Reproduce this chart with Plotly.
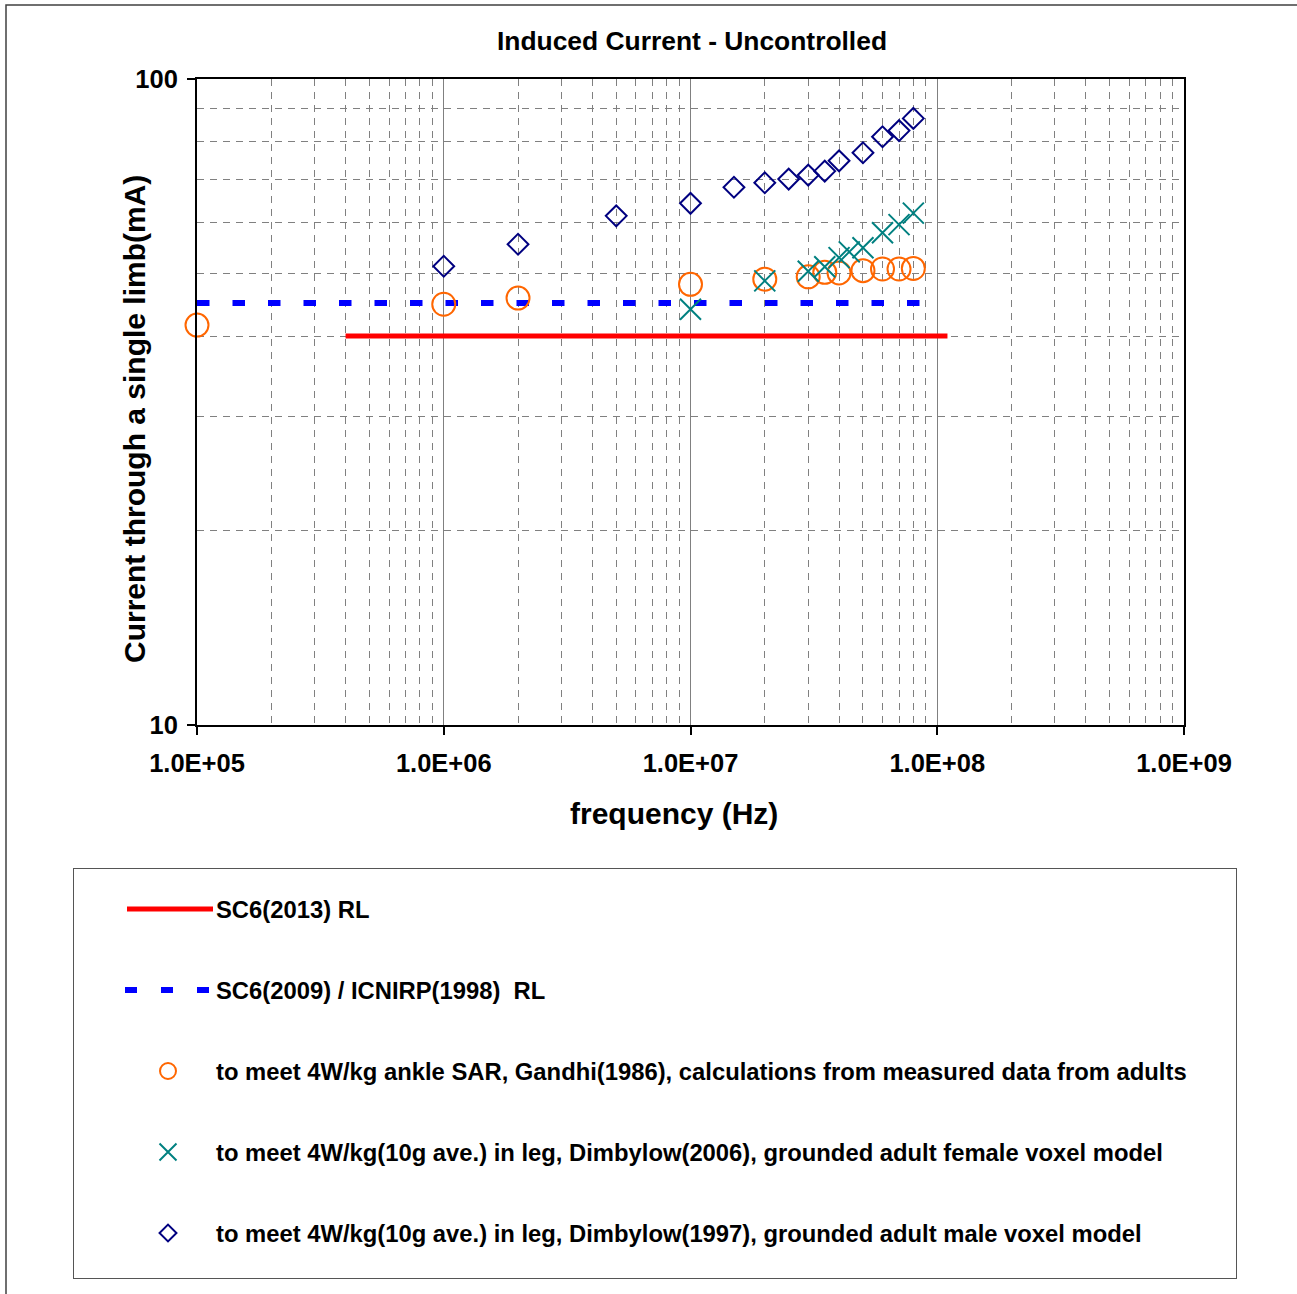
import plotly.graph_objects as go

# ---------------- data ----------------
sc6_2013_x = [4e5, 1.1e8]
sc6_2013_y = [40, 40]

sc6_2009_x = [1e5, 1e8]
sc6_2009_y = [45, 45]

gandhi_x = [1e5, 1e6, 2e6, 1e7, 2e7, 3e7, 3.5e7, 4e7, 5e7, 6e7, 7e7, 8e7]
gandhi_y = [41.6, 44.8, 45.8, 48.1, 49.0, 49.4, 50.2, 50.1, 50.5, 50.8, 50.8, 50.9]

dimb2006_x = [1e7, 2e7, 3e7, 3.5e7, 4e7, 4.4e7, 5e7, 6e7, 7e7, 8e7]
dimb2006_y = [44.0, 48.7, 50.4, 51.2, 52.9, 54.0, 54.8, 57.8, 59.5, 62.0]

dimb1997_x = [1e6, 2e6, 5e6, 1e7, 1.5e7, 2e7, 2.5e7, 3e7, 3.5e7, 4e7, 5e7, 6e7, 7e7, 8e7]
dimb1997_y = [51.3, 55.5, 61.4, 64.2, 68.0, 69.1, 70.0, 71.0, 72.0, 74.7, 76.9, 81.4, 83.2, 86.9]

x_tickvals = [1e5, 1e6, 1e7, 1e8, 1e9]
x_ticktext = ["1.0E+05", "1.0E+06", "1.0E+07", "1.0E+08", "1.0E+09"]
y_tickvals = [10, 100]
y_ticktext = ["10", "100"]

legend_labels = [
    "SC6(2013) RL",
    "SC6(2009) / ICNIRP(1998) \u00a0RL",
    "to meet 4W/kg ankle SAR, Gandhi(1986), calculations from measured data from adults",
    "to meet 4W/kg(10g ave.) in leg, Dimbylow(2006), grounded adult female voxel model",
    "to meet 4W/kg(10g ave.) in leg, Dimbylow(1997), grounded adult male voxel model",
]

# ---------------- styling ----------------
W, H = 1297, 1294
FONT = "Liberation Sans, Arial, sans-serif"
ORANGE = "#FF6600"
TEAL = "#008080"
NAVY = "#000080"
GRID = "#808080"

minor_x = [m * 10 ** e for e in range(5, 9) for m in range(2, 10)]
minor_y = [m * 10 for m in range(2, 10)]


def fx(px):
    return px / W


def fy(py):
    return (H - py) / H


fig = go.Figure()

# main series
fig.add_trace(go.Scatter(x=sc6_2013_x, y=sc6_2013_y, mode="lines",
                         line=dict(color="#FF0000", width=5), cliponaxis=False))
fig.add_trace(go.Scatter(x=sc6_2009_x, y=sc6_2009_y, mode="lines",
                         line=dict(color="#0000FF", width=6, dash="12.5px,23px")))
fig.add_trace(go.Scatter(x=gandhi_x, y=gandhi_y, mode="markers", cliponaxis=False,
                         marker=dict(symbol="circle-open", size=23, color=ORANGE,
                                     line=dict(width=2, color=ORANGE))))
fig.add_trace(go.Scatter(x=dimb2006_x, y=dimb2006_y, mode="markers", cliponaxis=False,
                         marker=dict(symbol="x-thin-open", size=21, color=TEAL,
                                     line=dict(width=2, color=TEAL))))
fig.add_trace(go.Scatter(x=dimb1997_x, y=dimb1997_y, mode="markers", cliponaxis=False,
                         marker=dict(symbol="diamond-open", size=16, color=NAVY,
                                     line=dict(width=2, color=NAVY))))

# legend box (own axes, pixel-like units)
leg_rows = [909, 990, 1071, 1152, 1233]
leg_x0, leg_x1, leg_mid, leg_text_x = 127, 213, 168, 214
fig.add_trace(go.Scatter(x=[leg_x0, leg_x1], y=[leg_rows[0]] * 2, mode="lines",
                         line=dict(color="#FF0000", width=5), xaxis="x2", yaxis="y2"))
fig.add_trace(go.Scatter(x=[125, leg_x1], y=[leg_rows[1]] * 2, mode="lines",
                         line=dict(color="#0000FF", width=6, dash="12px,24px"),
                         xaxis="x2", yaxis="y2"))
fig.add_trace(go.Scatter(x=[leg_mid], y=[leg_rows[2]], mode="markers",
                         marker=dict(symbol="circle-open", size=16, color=ORANGE,
                                     line=dict(width=2, color=ORANGE)),
                         xaxis="x2", yaxis="y2"))
fig.add_trace(go.Scatter(x=[leg_mid], y=[leg_rows[3]], mode="markers",
                         marker=dict(symbol="x-thin-open", size=17, color=TEAL,
                                     line=dict(width=2, color=TEAL)),
                         xaxis="x2", yaxis="y2"))
fig.add_trace(go.Scatter(x=[leg_mid], y=[leg_rows[4]], mode="markers",
                         marker=dict(symbol="diamond-open", size=13, color=NAVY,
                                     line=dict(width=2, color=NAVY)),
                         xaxis="x2", yaxis="y2"))

annotations = []
for row, lab in zip(leg_rows, legend_labels):
    annotations.append(dict(x=leg_text_x, y=row, xref="x2", yref="y2", text="<b>" + lab + "</b>",
                            showarrow=False, xanchor="left", yanchor="middle",
                            font=dict(size=23.8, family=FONT, color="black")))

annotations += [
    dict(x=fx(692.5), y=fy(41), xref="paper", yref="paper",
         text="<b>Induced Current - Uncontrolled</b>", showarrow=False,
         xanchor="center", yanchor="middle", font=dict(size=26.4, family=FONT, color="black")),
    dict(x=fx(673.5), y=fy(813), xref="paper", yref="paper",
         text="<b>frequency (Hz)</b>", showarrow=False,
         xanchor="center", yanchor="middle", font=dict(size=30, family=FONT, color="black")),
    dict(x=fx(135), y=fy(419), xref="paper", yref="paper",
         text="<b>Current through a single limb(mA)</b>", showarrow=False, textangle=-90,
         xanchor="center", yanchor="middle", font=dict(size=30, family=FONT, color="black")),
]

fig.update_layout(
    width=W, height=H, autosize=False,
    margin=dict(l=0, r=0, t=0, b=0, pad=0, autoexpand=False),
    paper_bgcolor="white", plot_bgcolor="white",
    showlegend=False,
    font=dict(family=FONT, color="black"),
    annotations=annotations,
    shapes=[dict(type="rect", xref="paper", yref="paper",
                 x0=fx(6), x1=fx(1310), y0=fy(1310), y1=fy(5),
                 line=dict(color="#404040", width=1.5), fillcolor="rgba(0,0,0,0)")],
    xaxis=dict(
        type="log", range=[5, 9], domain=[fx(197), fx(1184)], anchor="y", automargin=False,
        tickvals=x_tickvals, ticktext=x_ticktext,
        tickfont=dict(size=25.5, family=FONT, color="black", weight="bold"),
        ticks="outside", ticklen=8, tickwidth=2, tickcolor="black", ticklabelstandoff=6,
        showline=True, linewidth=2, linecolor="black", mirror=True,
        showgrid=True, gridcolor=GRID, gridwidth=1, zeroline=False,
        minor=dict(tickvals=minor_x, showgrid=True, gridcolor=GRID, gridwidth=1,
                   griddash="7px,6px", ticks=""),
    ),
    yaxis=dict(
        type="log", range=[1, 2], domain=[fy(725), fy(79)], anchor="x", automargin=False,
        tickvals=y_tickvals, ticktext=y_ticktext,
        tickfont=dict(size=25.5, family=FONT, color="black", weight="bold"),
        ticks="outside", ticklen=8, tickwidth=2, tickcolor="black", ticklabelstandoff=4,
        showline=True, linewidth=2, linecolor="black", mirror=True,
        showgrid=True, gridcolor=GRID, gridwidth=1, zeroline=False,
        minor=dict(tickvals=minor_y, showgrid=True, gridcolor=GRID, gridwidth=1,
                   griddash="7px,6px", ticks=""),
    ),
    xaxis2=dict(
        domain=[fx(74), fx(1236)], range=[74, 1236], anchor="y2", automargin=False,
        showline=True, mirror=True, linecolor="#555555", linewidth=1,
        showticklabels=False, showgrid=False, zeroline=False, ticks="", fixedrange=True,
    ),
    yaxis2=dict(
        domain=[fy(1278), fy(869)], range=[1278, 869], anchor="x2", automargin=False,
        showline=True, mirror=True, linecolor="#555555", linewidth=1,
        showticklabels=False, showgrid=False, zeroline=False, ticks="", fixedrange=True,
    ),
)

fig.write_html("out.html", config={"displayModeBar": False})
